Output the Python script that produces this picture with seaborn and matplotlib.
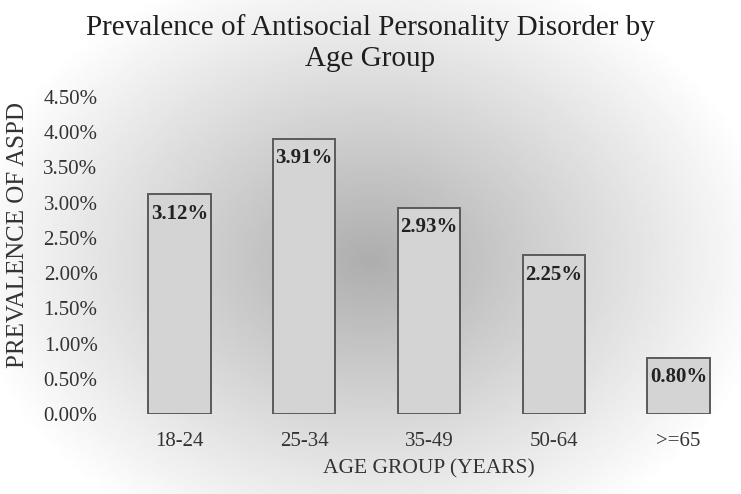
import numpy as np
import pandas as pd
import matplotlib
matplotlib.use('Agg')
import matplotlib.pyplot as plt
import seaborn as sns

age_groups = ['18-24', '25-34', '35-49', '50-64', '>=65']
prevalence = [3.12, 3.91, 2.93, 2.25, 0.80]
y_ticks = [0.0, 0.5, 1.0, 1.5, 2.0, 2.5, 3.0, 3.5, 4.0, 4.5]

df = pd.DataFrame({'Age Group': age_groups, 'Prevalence': prevalence})

sns.set_style('white')
plt.rcParams['font.family'] = ['Liberation Serif', 'DejaVu Serif']

fig = plt.figure(figsize=(7.41, 4.94), dpi=100)

# radial gradient background
bg = fig.add_axes([0, 0, 1, 1], zorder=-10)
yy, xx = np.mgrid[0:494, 0:741]
r = np.sqrt(((xx - 370) / 430.0) ** 2 + ((yy - 260) / 330.0) ** 2)
shade = np.clip(0.68 + 0.34 * r, 0, 1)
bg.imshow(shade, cmap='gray', vmin=0, vmax=1, aspect='auto', interpolation='bilinear')
bg.axis('off')

ax = fig.add_axes([117 / 741, 80 / 494, 624 / 741, 317 / 494])
ax.patch.set_alpha(0)
sns.barplot(data=df, x='Age Group', y='Prevalence', ax=ax, color='#d4d4d4',
            edgecolor='#5a5a5a', linewidth=1.4, width=0.5, saturation=1)

for bar, v in zip(ax.patches, prevalence):
    ax.annotate(f'{v:.2f}%', (bar.get_x() + bar.get_width() / 2, bar.get_height()),
                xytext=(0, -7), textcoords='offset points', ha='center', va='top',
                fontsize=15, fontweight='bold', color='#222222',
                family='Liberation Serif')

ax.set_xlim(-0.5, 4.5)
ax.set_ylim(0, 4.5)
ax.set_yticks(y_ticks)
ax.set_yticklabels([f'{t:.2f}%' for t in y_ticks])
ax.tick_params(axis='both', labelsize=15, colors='#333333', length=0)
ax.tick_params(axis='y', pad=14)
ax.tick_params(axis='x', pad=13)
for s in ax.spines.values():
    s.set_visible(False)

ax.set_xlabel('AGE GROUP (YEARS)', fontsize=15.5, color='#333333')
ax.set_ylabel('PREVALENCE OF ASPD', fontsize=18, color='#333333')
ax.xaxis.set_label_coords(0.5, -0.142)
ax.yaxis.label.set_va('center')
ax.yaxis.set_label_coords(-0.159, 0.565)
fig.text(0.5, 0.972, 'Prevalence of Antisocial Personality Disorder by\nAge Group',
         ha='center', va='top', fontsize=21, color='#1e1e1e', linespacing=1.25,
         family='Liberation Serif')

fig.savefig('out.png', dpi=100)
